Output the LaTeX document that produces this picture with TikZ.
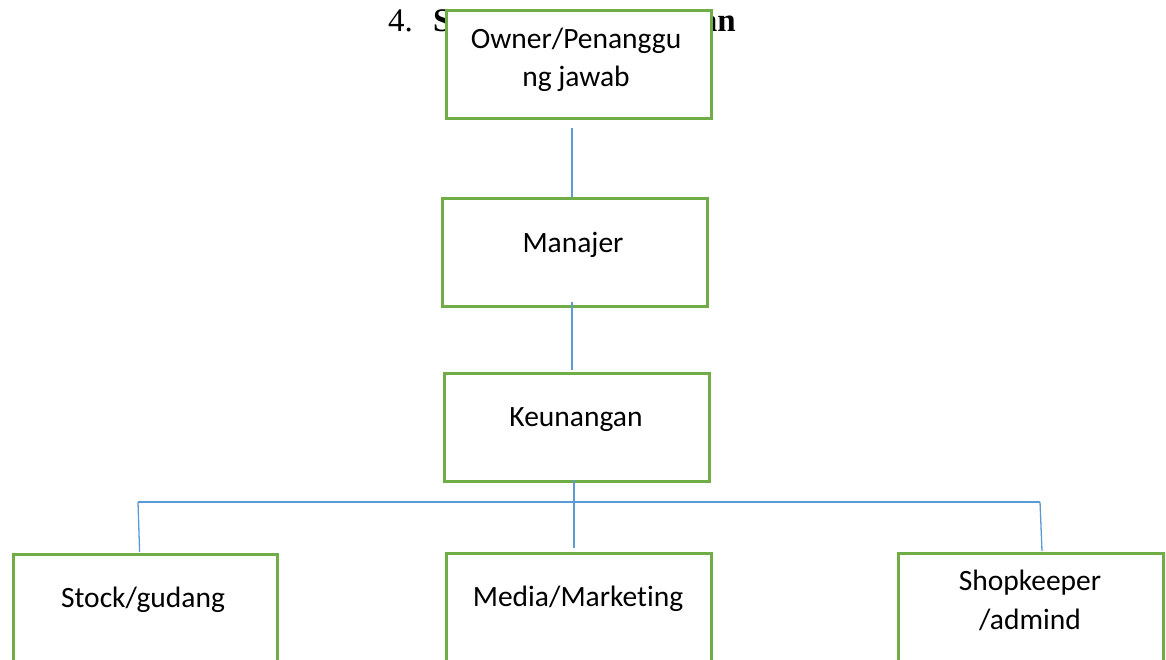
\documentclass[tikz,border=0pt]{standalone}
\usepackage{fontspec}
\setmainfont[Ligatures={NoCommon}]{Carlito}
\newfontfamily\titlefont{Liberation Serif}
\definecolor{boxgreen}{RGB}{112,173,71}
\definecolor{linkblue}{RGB}{91,155,213}
\begin{document}
\begin{tikzpicture}[x=1pt,y=-1pt,
  box/.style={draw=boxgreen, line width=2.6pt, fill=white, rectangle, minimum width=265pt, minimum height=108pt, anchor=north west, inner sep=0pt},
  lbl/.style={font=\fontsize{29.5}{38.5}\selectfont, align=center, anchor=base, inner sep=0pt},
  conn/.style={draw=linkblue, line width=1.3pt},
  ttl/.style={font=\titlefont\fontsize{33}{38}\selectfont, anchor=base west, inner sep=0pt},
  ttlb/.style={font=\titlefont\bfseries\fontsize{33}{38}\selectfont, inner sep=0pt}]
\useasboundingbox (0,0) rectangle (1166,660);
\clip (0,0) rectangle (1166,660);
% title (partly hidden by the owner box)
\node[ttl] (t4) at (388,32) {4.};
\node[ttlb, anchor=base west] (tS) at (433,32) {S};
\node[ttlb, anchor=base east] (tan) at (736,32) {an};
% boxes
\node[box] (owner) at (445,9) {};
\node[box] (manajer) at (441,197) {};
\node[box] (keu) at (443,372) {};
\node[box, minimum width=264pt, minimum height=118pt] (stock) at (12,553) {};
\node[box, minimum height=118pt] (media) at (445,552) {};
\node[box, minimum height=118pt] (shop) at (897,552) {};
% labels (base anchor = baseline of the last line)
\node[lbl] (lowner) at (576,87) {Owner/Penanggu\\ng jawab};
\node[lbl] (lmanajer) at (573,252) {Manajer};
\node[lbl] (lkeu) at (576,426) {Keunangan};
\node[lbl] (lstock) at (143,607) {Stock/gudang};
\node[lbl] (lmedia) at (578,606) {Media/Marketing};
\node[lbl] (lshop) at (1030,629) {Shopkeeper\\/admind};
% connectors
\coordinate (c1) at (572,128);
\draw[conn] (c1) -- (c1 |- manajer.north);
\coordinate (c2) at (572,302);
\draw[conn] (c2) -- ([yshift=2pt]c2 |- keu.north);
\coordinate (c3) at (574,480);
\draw[conn] (c3) -- ([yshift=4pt]c3 |- media.north);
\coordinate (bl) at (138,502);
\coordinate (br) at (1040,502);
\draw[conn] (bl) -- (br);
\draw[conn] (bl) -- ([xshift=1.6pt,yshift=1pt]bl |- stock.north);
\draw[conn] (br) -- ([xshift=2pt,yshift=1pt]br |- shop.north);
\end{tikzpicture}
\end{document}
